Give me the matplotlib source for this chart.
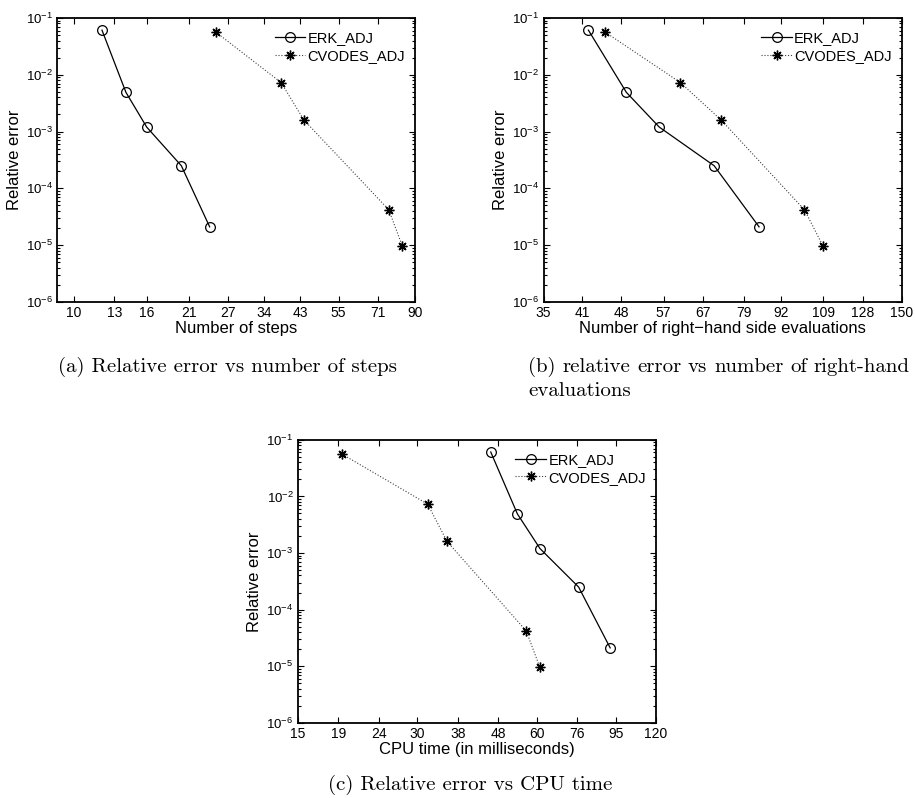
import math
import matplotlib
matplotlib.use("Agg")
import matplotlib.pyplot as plt
from matplotlib.ticker import FixedLocator, FixedFormatter, LogLocator, NullFormatter, FuncFormatter

# relative errors (same runs in all three panels)
err_erk = [6.1e-2, 4.9e-3, 1.2e-3, 2.5e-4, 2.1e-5]
err_cv = [5.6e-2, 7.3e-3, 1.6e-3, 4.2e-5, 9.5e-6]

steps_erk = [12, 14, 16, 20, 24]
steps_cv = [25, 38, 44, 76, 83]
rhs_erk = [42, 49, 56, 70, 84]
rhs_cv = [45, 61, 72, 101, 109]
cpu_erk = [46, 53.7, 61.2, 76.6, 92]
cpu_cv = [19.4, 31.9, 35.7, 56.5, 61.2]

ticks_steps = [10, 13, 16, 21, 27, 34, 43, 55, 71, 90]
ticks_rhs = [35, 41, 48, 57, 67, 79, 92, 109, 128, 150]
ticks_cpu = [15, 19, 24, 30, 38, 48, 60, 76, 95, 120]

plt.rcParams['font.family'] = ['Liberation Sans', 'DejaVu Sans']
plt.rcParams['mathtext.fontset'] = 'custom'
plt.rcParams['mathtext.rm'] = 'Liberation Sans'

W, H = 915, 798
fig = plt.figure(figsize=(W / 100, H / 100), dpi=100)


def panel(rect, x_erk, x_cv, ticks, xlim, xlabel):
    ax = fig.add_axes(rect)
    ax.set_xscale('log')
    ax.set_yscale('log')
    ax.plot(x_erk, err_erk, color='black', lw=0.9, marker='o', ms=7,
            mfc='none', mew=0.9, label='ERK_ADJ')
    ax.plot(x_cv, err_cv, color='0.25', ls=':', lw=0.8, marker=(8, 2, 0), ms=7,
            mec='black', mew=1.0, label='CVODES_ADJ')
    ax.set_xlim(xlim)
    ax.set_ylim(1e-6, 1e-1)
    ax.xaxis.set_major_locator(FixedLocator(ticks))
    ax.xaxis.set_major_formatter(FixedFormatter([str(t) for t in ticks]))
    ax.xaxis.set_minor_locator(FixedLocator([]))
    ax.yaxis.set_major_locator(LogLocator(base=10, numticks=10))
    ax.yaxis.set_minor_locator(LogLocator(base=10, subs=range(2, 10), numticks=20))
    ax.yaxis.set_minor_formatter(NullFormatter())
    ax.yaxis.set_major_formatter(FuncFormatter(
        lambda v, p: r'$\mathregular{10^{%d}}$' % round(math.log10(v))))
    ax.tick_params(which='both', direction='in', top=True, right=True, width=0.8)
    ax.tick_params(which='major', length=4, labelsize=9.5, pad=3)
    ax.tick_params(which='minor', length=2.2)
    for lab in ax.get_xticklabels():
        lab.set_fontfamily(['Liberation Sans Narrow', 'Liberation Sans'])
        lab.set_fontsize(10)
    for s in ax.spines.values():
        s.set_linewidth(1.3)
    ax.set_xlabel(xlabel, fontsize=12, labelpad=0.5)
    ax.set_ylabel('Relative error', fontsize=12, labelpad=3)
    ax.legend(loc='upper right', frameon=False, fontsize=10.5, handlelength=2.1,
              handletextpad=0.15, labelspacing=0.25, borderaxespad=0.3,
              bbox_to_anchor=(1.0, 0.99))
    return ax


panel([0.0626, 0.6216, 0.3910, 0.3559], steps_erk, steps_cv, ticks_steps, (9.0, 90),
      'Number of steps')
panel([0.5940, 0.6216, 0.3916, 0.3559], rhs_erk, rhs_cv, ticks_rhs, (35, 150),
      'Number of right\u2212hand side evaluations')
panel([0.3253, 0.0944, 0.3916, 0.3544], cpu_erk, cpu_cv, ticks_cpu, (15, 120),
      'CPU time (in milliseconds)')

cap = dict(fontfamily='cmr10', fontsize=15)
fig.text(228 / W, 1 - 367 / H, '(a) Relative error vs number of steps',
         ha='center', va='center', **cap)
fig.text(470 / W, 1 - 785 / H, '(c) Relative error vs CPU time',
         ha='center', va='center', **cap)

# caption (b): first line justified between x0 and x1 like the LaTeX subcaption
x0, x1 = 528, 910
words = ['(b)', 'relative', 'error', 'vs', 'number', 'of', 'right-hand']
renderer = fig.canvas.get_renderer()
widths = []
for w in words:
    t = fig.text(0, 0, w, **cap)
    widths.append(t.get_window_extent(renderer).width)
    t.remove()
gap = (x1 - x0 - sum(widths)) / (len(words) - 1)
x = x0
for w, wd in zip(words, widths):
    fig.text(x / W, 1 - 367 / H, w, ha='left', va='center', **cap)
    x += wd + gap
fig.text(x0 / W, 1 - 391 / H, 'evaluations', ha='left', va='center', **cap)

fig.savefig('out.png', dpi=100)
